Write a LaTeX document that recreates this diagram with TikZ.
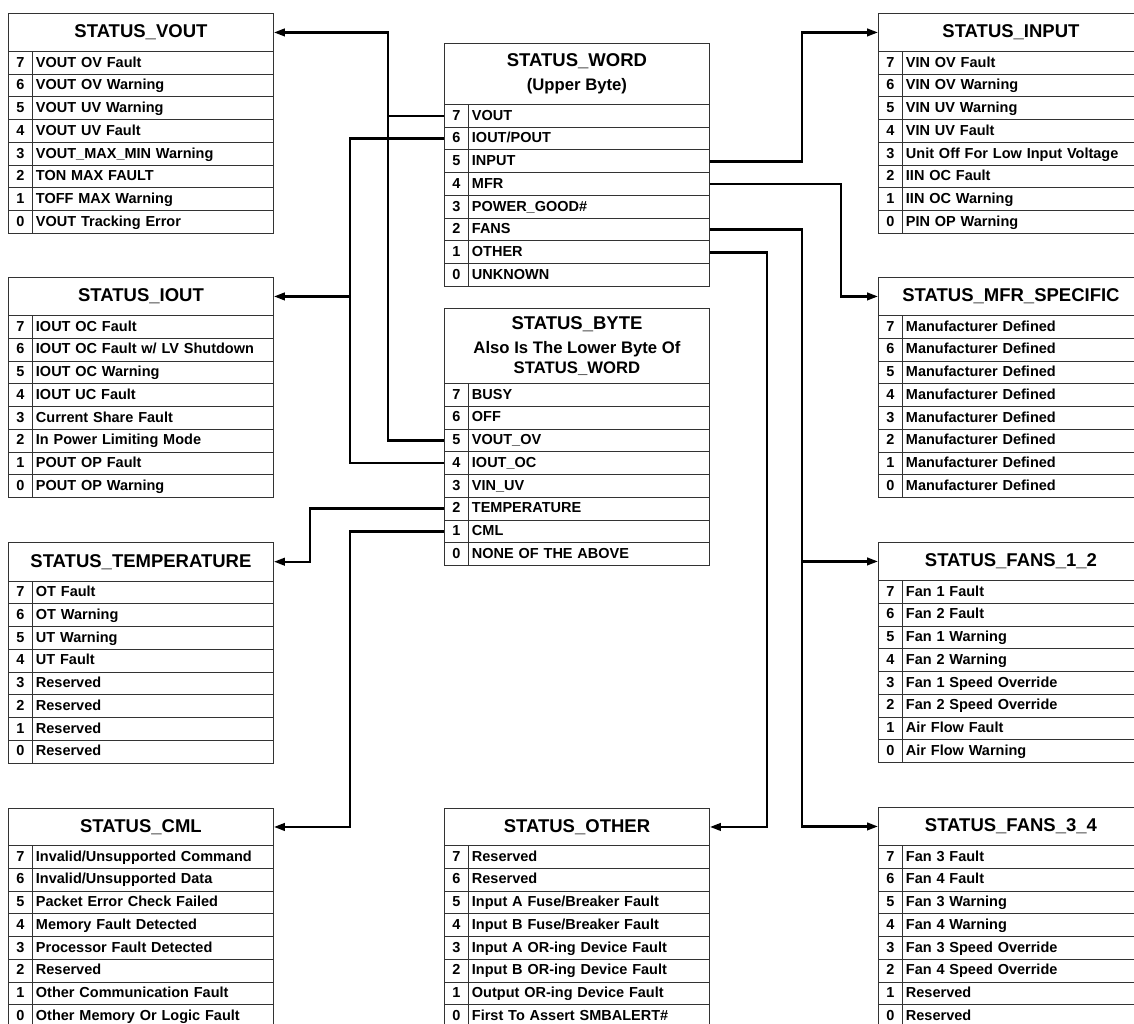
\documentclass[tikz,border=0pt]{standalone}
\usepackage{fontspec}
\setmainfont{Liberation Sans}
\usetikzlibrary{arrows.meta}
\tikzset{
  cell/.style={draw=black!80, line width=0.9pt, inner ysep=0pt, minimum height=22.75pt,
    text height=11pt, text depth=2.35pt,
    font=\fontsize{14.5}{17}\selectfont\bfseries},
  numcell/.style={cell, inner xsep=0pt, minimum width=24pt, text width=24pt, align=center},
  txtcell/.style={cell, inner xsep=3.5pt, minimum width=241pt, text width=234pt, align=left},
  hdr/.style={draw=black!80, line width=0.9pt, inner sep=0pt, minimum width=265pt, align=center,
    font=\fontsize{18.5}{22}\selectfont\bfseries},
  hdrtwo/.style={hdr, font=\fontsize{16.7}{20}\selectfont\bfseries},
  conn/.style={line width=2.4pt, black},
  arr/.style={conn, -{Triangle[length=11pt,width=7.5pt]}},
}
\newcommand{\bittable}[7][hdr]{%
  \node[#1, minimum height=#5pt, anchor=north west] (#2-h) at (#3,#4) {#6};
  \foreach \txt [count=\k from 0] in {#7}{%
    \pgfmathtruncatemacro{\bit}{7-\k}%
    \node[numcell, anchor=north west] (#2-n\bit) at (#3, #4+#5+\k*22.75) {\bit};
    \node[txtcell, anchor=north west] (#2-t\bit) at (#3+24, #4+#5+\k*22.75) {\txt};
  }%
}
\begin{document}
\begin{tikzpicture}[x=1pt,y=-1pt]
\useasboundingbox (0,0) rectangle (1134,1024);
\clip (0,0) rectangle (1134,1024);
\fill[white] (0,0) rectangle (1134,1024);

% left column
\bittable{vout}{8}{13}{38}{STATUS\_VOUT}{VOUT OV Fault,VOUT OV Warning,VOUT UV Warning,VOUT UV Fault,VOUT\_MAX\_MIN Warning,TON MAX FAULT,TOFF MAX Warning,VOUT Tracking Error}
\bittable{iout}{8}{277}{38}{STATUS\_IOUT}{IOUT OC Fault,IOUT OC Fault w/ LV Shutdown,IOUT OC Warning,IOUT UC Fault,Current Share Fault,In Power Limiting Mode,POUT OP Fault,POUT OP Warning}
\bittable{tempr}{8}{542}{38.5}{STATUS\_TEMPERATURE}{OT Fault,OT Warning,UT Warning,UT Fault,Reserved,Reserved,Reserved,Reserved}
\bittable{cml}{8}{808}{37}{STATUS\_CML}{Invalid/Unsupported Command,Invalid/Unsupported Data,Packet Error Check Failed,Memory Fault Detected,Processor Fault Detected,Reserved,Other Communication Fault,Other Memory Or Logic Fault}

% middle column
\bittable[hdrtwo]{word}{444}{43}{61}{{\fontsize{18.5}{20}\selectfont STATUS\_WORD}\\[3.5pt](Upper Byte)}{VOUT,IOUT/POUT,INPUT,MFR,POWER\_GOOD\#,FANS,OTHER,UNKNOWN}
\bittable[hdrtwo]{byte}{444}{308}{75}{{\fontsize{18.5}{20}\selectfont STATUS\_BYTE}\\[4.4pt]Also Is The Lower Byte Of\\STATUS\_WORD}{BUSY,OFF,VOUT\_OV,IOUT\_OC,VIN\_UV,TEMPERATURE,CML,NONE OF THE ABOVE}
\bittable{other}{444}{808}{37}{STATUS\_OTHER}{Reserved,Reserved,Input A Fuse/Breaker Fault,Input B Fuse/Breaker Fault,Input A OR-ing Device Fault,Input B OR-ing Device Fault,Output OR-ing Device Fault,First To Assert SMBALERT\#}

% right column
\bittable{input}{878}{13}{38}{STATUS\_INPUT}{VIN OV Fault,VIN OV Warning,VIN UV Warning,VIN UV Fault,Unit Off For Low Input Voltage,IIN OC Fault,IIN OC Warning,PIN OP Warning}
\bittable{mfr}{878}{277}{38}{STATUS\_MFR\_SPECIFIC}{Manufacturer Defined,Manufacturer Defined,Manufacturer Defined,Manufacturer Defined,Manufacturer Defined,Manufacturer Defined,Manufacturer Defined,Manufacturer Defined}
\bittable{fansa}{878}{542}{38}{STATUS\_FANS\_1\_2}{Fan 1 Fault,Fan 2 Fault,Fan 1 Warning,Fan 2 Warning,Fan 1 Speed Override,Fan 2 Speed Override,Air Flow Fault,Air Flow Warning}
\bittable{fansb}{878}{807}{38}{STATUS\_FANS\_3\_4}{Fan 3 Fault,Fan 4 Fault,Fan 3 Warning,Fan 4 Warning,Fan 3 Speed Override,Fan 4 Speed Override,Reserved,Reserved}

% junction coordinates
\coordinate (jvout) at ([xshift=114pt]vout-h.east);
\coordinate (jiout) at ([xshift=76pt]iout-h.east);
\coordinate (jtemp) at ([xshift=36pt]tempr-h.east);
\coordinate (jcml)  at ([xshift=76pt]cml-h.east);
\coordinate (jin)   at ([xshift=-76pt]input-h.west);
\coordinate (jmfr)  at ([xshift=-37pt]mfr-h.west);
\coordinate (jfa)   at ([xshift=-76pt]fansa-h.west);
\coordinate (jfb)   at ([xshift=-76pt]fansb-h.west);
\coordinate (joth)  at ([xshift=57pt]other-h.east);

% left connectors
\draw[arr] (byte-n5.west) -| (jvout) -- (vout-h.east);
\draw[conn] (word-n7.west) -- (word-n7.west -| jvout);
\draw[arr] (byte-n4.west) -| (jiout) -- (iout-h.east);
\draw[conn] (word-n6.west) -| (jiout);
\draw[arr] (byte-n2.west) -| (jtemp) -- (tempr-h.east);
\draw[arr] (byte-n1.west) -| (jcml) -- (cml-h.east);

% right connectors
\draw[arr] (word-t5.east) -| (jin) -- (input-h.west);
\draw[arr] (word-t4.east) -| (jmfr) -- (mfr-h.west);
\draw[arr] (word-t2.east) -| (jfb) -- (fansb-h.west);
\draw[arr] (jfa) -- (fansa-h.west);
\draw[arr] (word-t1.east) -| (joth) -- (other-h.east);
\end{tikzpicture}
\end{document}
